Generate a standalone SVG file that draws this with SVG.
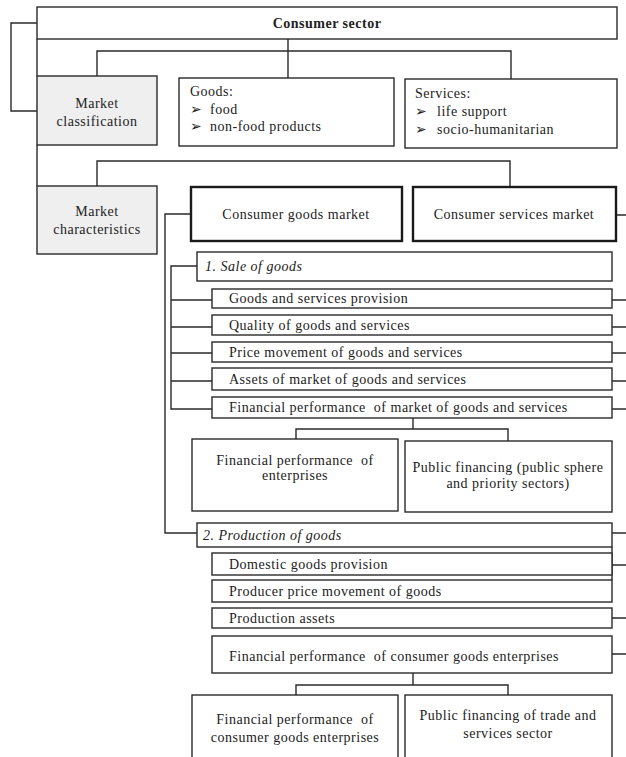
<svg xmlns="http://www.w3.org/2000/svg" width="626" height="757" viewBox="0 0 626 757">
<style>
.b{fill:#fff;stroke:#2a2a2a;stroke-width:1.4}
.g{fill:#efefef;stroke:#2a2a2a;stroke-width:1.4}
.k{fill:#fff;stroke:#1a1a1a;stroke-width:2.4}
.c{fill:none;stroke:#2a2a2a;stroke-width:1.4}
text{font-family:"Liberation Serif","Times New Roman",serif;font-size:14px;fill:#222;letter-spacing:0.5px}
.m{text-anchor:middle}
.i{font-style:italic}
.h{font-weight:bold}
</style>
<g id="connectors">
<path class="c" d="M37 23H11V111H37"/>
<path class="c" d="M37 39V76M37 145V186"/>
<path class="c" d="M288 39V51M97 76V51H511V79M288 51V78"/>
<path class="c" d="M97 186V161H510V187"/>
<path class="c" d="M191 214H165V533H197"/>
<path class="c" d="M197 266H171V409H212M171 300H212M171 327H212M171 353H212M171 381H212"/>
<path class="c" d="M616 215H626M612 300H626M612 327H626M612 353H626M612 381H626M612 409H626"/>
<path class="c" d="M413 418V429M296 439V429H508V441"/>
<path class="c" d="M612 533H626M612 565H626M612 618H626M612 654H626M612 547V580"/>
<path class="c" d="M413 673V685M296 695V685H508V695"/>
</g>
<g id="consumer-sector"><rect class="b" x="37" y="7" width="580" height="32"/><text class="m h" x="327" y="28">Consumer sector</text></g>
<g id="market-classification"><rect class="g" x="37" y="76" width="120" height="69"/><text class="m" x="97" y="108">Market</text><text class="m" x="97" y="126">classification</text></g>
<g id="goods"><rect class="b" x="179" y="78" width="215" height="68"/><text x="190" y="96">Goods:</text><text x="190" y="114">➢</text><text x="210" y="114">food</text><text x="190" y="131">➢</text><text x="210" y="131">non-food products</text></g>
<g id="services"><rect class="b" x="405" y="79" width="212" height="69"/><text x="415" y="98">Services:</text><text x="415" y="116">➢</text><text x="437" y="116">life support</text><text x="415" y="134">➢</text><text x="437" y="134">socio-humanitarian</text></g>
<g id="market-characteristics"><rect class="g" x="37" y="186" width="120" height="68"/><text class="m" x="97" y="216">Market</text><text class="m" x="97" y="234">characteristics</text></g>
<g id="consumer-goods-market"><rect class="k" x="191" y="187" width="211" height="54"/><text class="m" x="296" y="219">Consumer goods market</text></g>
<g id="consumer-services-market"><rect class="k" x="413" y="187" width="203" height="54"/><text class="m" x="514" y="219">Consumer services market</text></g>
<g id="sale-of-goods"><rect class="b" x="197" y="252" width="415" height="29"/><text class="i" x="205" y="271">1. Sale of goods</text></g>
<g id="goods-services-provision"><rect class="b" x="212" y="289" width="400" height="19"/><text x="229" y="303">Goods and services provision</text></g>
<g id="quality"><rect class="b" x="212" y="315" width="400" height="20"/><text x="229" y="330">Quality of goods and services</text></g>
<g id="price-movement"><rect class="b" x="212" y="342" width="400" height="20"/><text x="229" y="357">Price movement of goods and services</text></g>
<g id="assets"><rect class="b" x="212" y="368" width="400" height="22"/><text x="229" y="384">Assets of market of goods and services</text></g>
<g id="financial-market"><rect class="b" x="212" y="397" width="400" height="21"/><text x="229" y="412" xml:space="preserve">Financial performance  of market of goods and services</text></g>
<g id="financial-enterprises"><rect class="b" x="192" y="439" width="206" height="72"/><text class="m" x="295" y="465" xml:space="preserve">Financial performance  of</text><text class="m" x="295" y="480">enterprises</text></g>
<g id="public-financing"><rect class="b" x="405" y="441" width="207" height="71"/><text class="m" x="508" y="472">Public financing (public sphere</text><text class="m" x="508" y="488">and priority sectors)</text></g>
<g id="production-of-goods"><rect class="b" x="197" y="523" width="415" height="24"/><text class="i" x="203" y="540">2. Production of goods</text></g>
<g id="domestic-provision"><rect class="b" x="212" y="553" width="400" height="22"/><text x="229" y="569">Domestic goods provision</text></g>
<g id="producer-price"><rect class="b" x="212" y="580" width="400" height="22"/><text x="229" y="596">Producer price movement of goods</text></g>
<g id="production-assets"><rect class="b" x="212" y="608" width="400" height="20"/><text x="229" y="623">Production assets</text></g>
<g id="financial-consumer-goods"><rect class="b" x="212" y="636" width="400" height="37"/><text x="229" y="661" xml:space="preserve">Financial performance  of consumer goods enterprises</text></g>
<g id="financial-consumer-enterprises"><rect class="b" x="192" y="695" width="206" height="70"/><text class="m" x="295" y="724" xml:space="preserve">Financial performance  of</text><text class="m" x="295" y="742">consumer goods enterprises</text></g>
<g id="public-financing-trade"><rect class="b" x="405" y="695" width="207" height="70"/><text class="m" x="508" y="720">Public financing of trade and</text><text class="m" x="508" y="738">services sector</text></g>
</svg>
